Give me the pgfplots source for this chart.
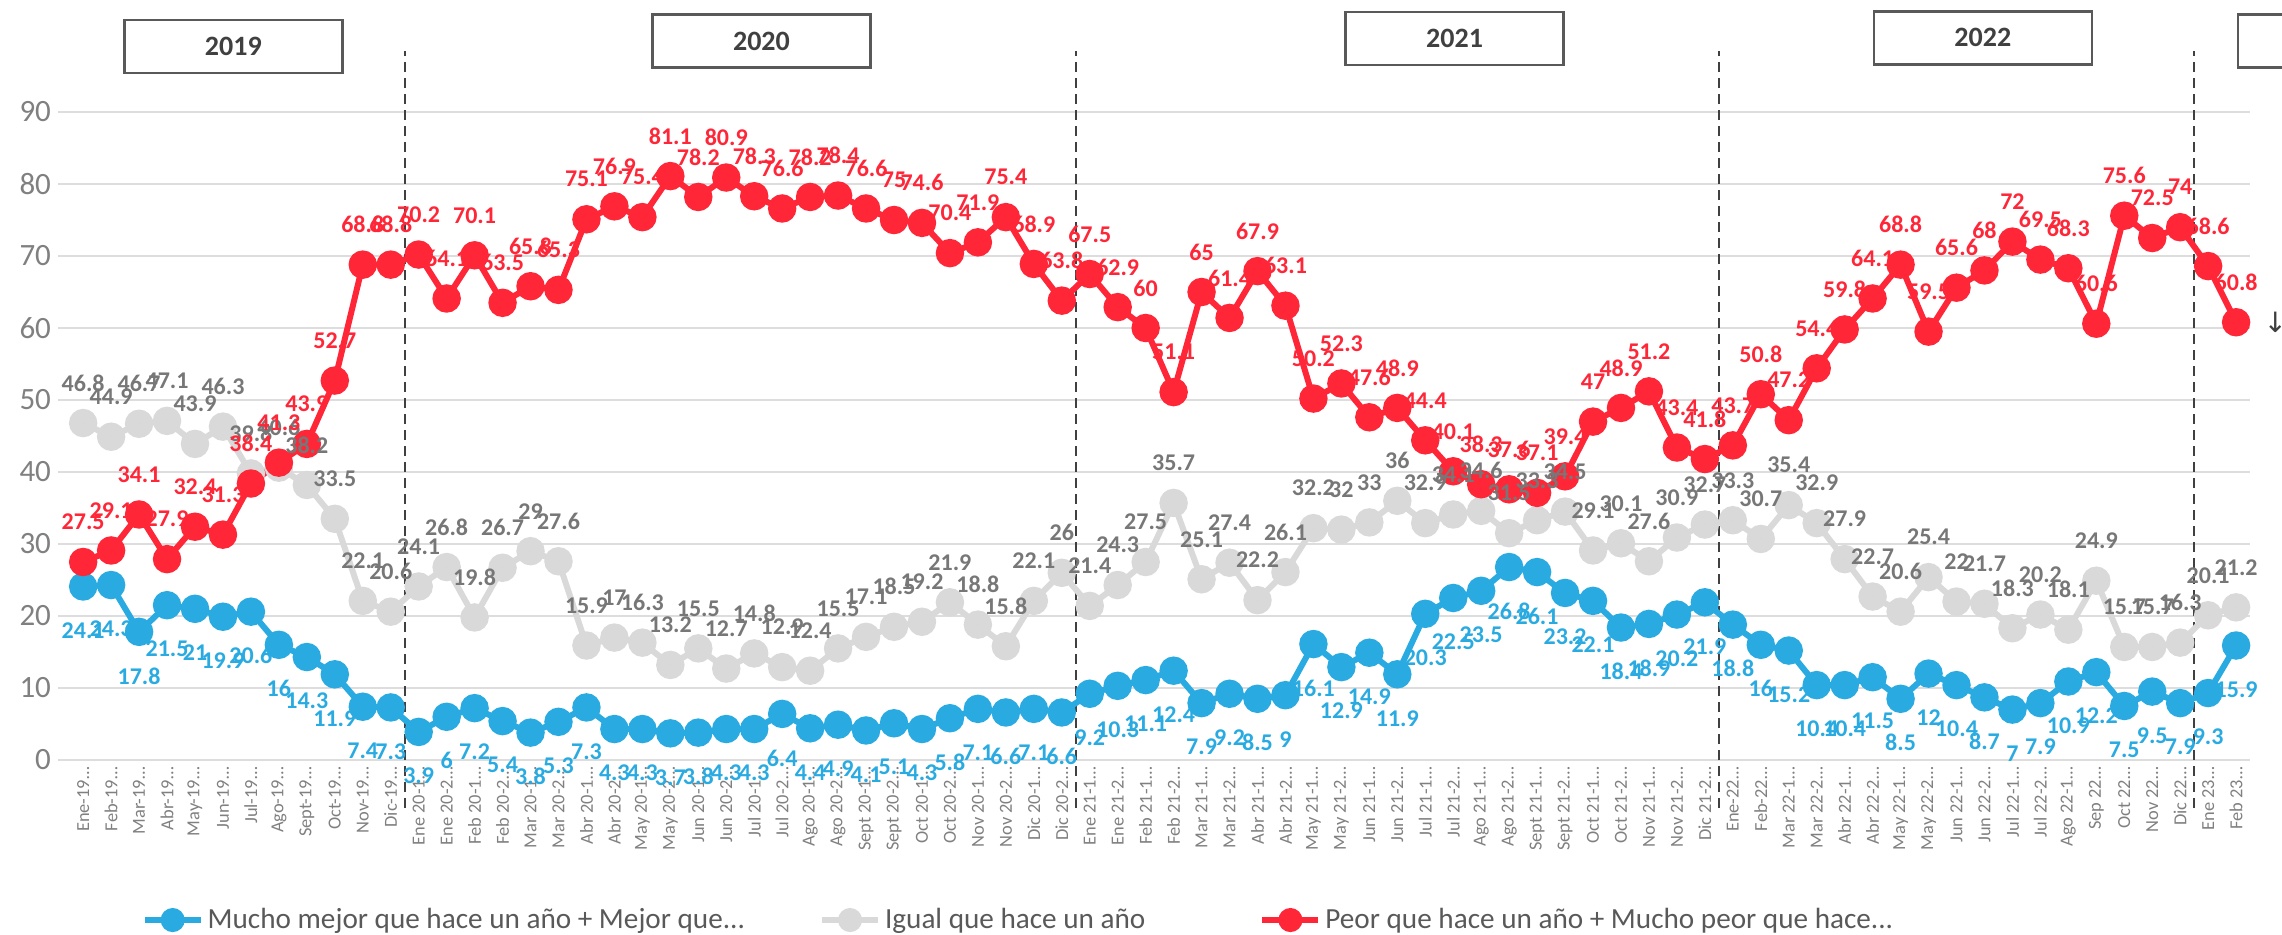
\documentclass[border=0pt]{standalone}
\usepackage{fontspec}
\setmainfont{Carlito}
\newfontfamily\dejavu{DejaVu Sans}
\usepackage{pgfplots}
\usepackage{pgfplotstable}
\pgfplotsset{compat=1.18}

\definecolor{cblue}{HTML}{29ABE2}
\definecolor{cred}{HTML}{FF2638}
\definecolor{cgray}{HTML}{D9D9D9}
\definecolor{lgray}{HTML}{777777}
\definecolor{gridc}{HTML}{DDDDDD}
\definecolor{boxc}{HTML}{595959}
\definecolor{txt}{HTML}{404040}

% x = period index, b = mucho mejor + mejor, g = igual, r = peor + mucho peor
\pgfplotstableread{
x b g r
0 24.1 46.8 27.5
1 24.3 44.9 29.1
2 17.8 46.7 34.1
3 21.5 47.1 27.9
4 21 43.9 32.4
5 19.9 46.3 31.3
6 20.6 39.8 38.4
7 16 40.6 41.3
8 14.3 38.2 43.9
9 11.9 33.5 52.7
10 7.4 22.1 68.8
11 7.3 20.6 68.8
12 3.9 24.1 70.2
13 6 26.8 64.1
14 7.2 19.8 70.1
15 5.4 26.7 63.5
16 3.8 29 65.8
17 5.3 27.6 65.3
18 7.3 15.9 75.1
19 4.3 17 76.9
20 4.3 16.3 75.4
21 3.7 13.2 81.1
22 3.8 15.5 78.2
23 4.3 12.7 80.9
24 4.3 14.8 78.3
25 6.4 12.9 76.6
26 4.4 12.4 78.2
27 4.9 15.5 78.4
28 4.1 17.1 76.6
29 5.1 18.5 75
30 4.3 19.2 74.6
31 5.8 21.9 70.4
32 7.1 18.8 71.9
33 6.6 15.8 75.4
34 7.1 22.1 68.9
35 6.6 26 63.8
36 9.2 21.4 67.5
37 10.3 24.3 62.9
38 11.1 27.5 60
39 12.4 35.7 51.1
40 7.9 25.1 65
41 9.2 27.4 61.4
42 8.5 22.2 67.9
43 9 26.1 63.1
44 16.1 32.2 50.2
45 12.9 32 52.3
46 14.9 33 47.6
47 11.9 36 48.9
48 20.3 32.9 44.4
49 22.5 34.1 40.1
50 23.5 34.6 38.3
51 26.8 31.5 37.6
52 26.1 33.3 37.1
53 23.2 34.5 39.4
54 22.1 29.1 47
55 18.4 30.1 48.9
56 18.9 27.6 51.2
57 20.2 30.9 43.4
58 21.9 32.7 41.8
59 18.8 33.3 43.7
60 16 30.7 50.8
61 15.2 35.4 47.2
62 10.4 32.9 54.4
63 10.4 27.9 59.8
64 11.5 22.7 64.1
65 8.5 20.6 68.8
66 12 25.4 59.5
67 10.4 22 65.6
68 8.7 21.7 68
69 7 18.3 72
70 7.9 20.2 69.5
71 10.9 18.1 68.3
72 12.2 24.9 60.6
73 7.5 15.7 75.6
74 9.5 15.7 72.5
75 7.9 16.3 74
76 9.3 20.1 68.6
77 15.9 21.2 60.8
}\data

\pgfplotsset{
  serie/.style={line width=3pt, mark=*, mark size=5.6pt},
  etiq/.style={forget plot, only marks, mark=*, mark size=0pt,
    mark options={draw=none, fill=none},
    nodes near coords={\pgfmathprintnumber[fixed, precision=1]{\pgfplotspointmeta}},
    every node near coord/.append style={anchor=center, text=#1,
      font=\bfseries\fontsize{12}{13}\selectfont, inner sep=0pt}},
}

\begin{document}
\begin{tikzpicture}
\useasboundingbox (0,0) rectangle (1141pt,467.5pt);
\begin{axis}[
  at={(29pt,87.5pt)}, anchor=south west,
  scale only axis, width=1096pt, height=324pt,
  xmin=-0.9, xmax=77.5, ymin=0, ymax=90,
  clip=false,
  axis line style={draw=none},
  tick style={draw=none},
  ymajorgrids, major grid style={gridc, line width=1.2pt},
  ytick={0,10,...,90},
  xtick={0,...,77},
  xticklabels={Ene-19…, Feb-19…, Mar-19…, Abr-19…, May-19…, Jun-19…, Jul-19…, Ago-19…, Sept-19…, Oct-19…, Nov-19…, Dic-19…,
    Ene 20-1…, Ene 20-2…, Feb 20-1…, Feb 20-2…, Mar 20-1…, Mar 20-2…, Abr 20-1…, Abr 20-2…, May 20-1…, May 20-2…, Jun 20-1…, Jun 20-2…, Jul 20-1…, Jul 20-2…, Ago 20-1…, Ago 20-2…, Sept 20-1…, Sept 20-2…, Oct 20-1…, Oct 20-2…, Nov 20-1…, Nov 20-2…, Dic 20-1…, Dic 20-2…,
    Ene 21-1…, Ene 21-2…, Feb 21-1…, Feb 21-2…, Mar 21-1…, Mar 21-2…, Abr 21-1…, Abr 21-2…, May 21-1…, May 21-2…, Jun 21-1…, Jun 21-2…, Jul 21-1…, Jul 21-2…, Ago 21-1…, Ago 21-2…, Sept 21-1…, Sept 21-2…, Oct 21-1…, Oct 21-2…, Nov 21-1…, Nov 21-2…, Dic 21-2…,
    Ene-22…, Feb-22…, Mar 22-1…, Mar 22-2…, Abr 22-1…, Abr 22-2…, May 22-1…, May 22-2…, Jun 22-1…, Jun 22-2…, Jul 22-1…, Jul 22-2…, Ago 22-1…, Sep 22…, Oct 22…, Nov 22…, Dic 22…,
    Ene 23…, Feb 23…},
  x tick label style={rotate=90, anchor=east, font=\fontsize{9.2}{10}\selectfont, text=gray},
  y tick label style={font=\fontsize{15.5}{17}\selectfont, text=gray},
  /pgf/number format/assume math mode=true,
  legend columns=3,
  legend style={at={(0.038,-0.247)}, anchor=west, draw=none, fill=none, inner sep=0pt,
    font=\fontsize{14.6}{17}\selectfont, text=boxc,
    /tikz/every even column/.append style={column sep=35pt}},
  legend image code/.code={\draw[#1, mark repeat=2, mark phase=2, mark size=4.5pt]
    plot coordinates {(0pt,0pt)(14pt,0pt)(28pt,0pt)};},
]

\draw[txt, line width=1pt, dash pattern=on 5pt off 3pt] (axis cs:11.5,-6.7) -- (axis cs:11.5,98.5);
\draw[txt, line width=1pt, dash pattern=on 5pt off 3pt] (axis cs:35.5,-6.7) -- (axis cs:35.5,98.5);
\draw[txt, line width=1pt, dash pattern=on 5pt off 3pt] (axis cs:58.5,-6.7) -- (axis cs:58.5,98.5);
\draw[txt, line width=1pt, dash pattern=on 5pt off 3pt] (axis cs:75.5,-6.7) -- (axis cs:75.5,98.5);

\addplot[cblue, serie] table[x=x, y=b] {\data};
\addlegendentry{Mucho mejor que hace un año + Mejor que...}
\addplot[cgray, serie] table[x=x, y=g] {\data};
\addlegendentry{Igual que hace un año\hspace{20pt}\mbox{}}
\addplot[cred, serie] table[x=x, y=r] {\data};
\addlegendentry{Peor que hace un año + Mucho peor que hace...}

\addplot[etiq=cblue, every node near coord/.append style={yshift=-22pt}] table[x=x, y=b] {\data};
\addplot[etiq=lgray, every node near coord/.append style={yshift=20pt}] table[x=x, y=g] {\data};
\addplot[etiq=cred, every node near coord/.append style={yshift=20pt}] table[x=x, y=r] {\data};

\tikzset{yearbox/.style={draw=boxc, line width=1.3pt, fill=white, minimum width=109pt,
  minimum height=26.5pt, font=\bfseries\fontsize{14}{15}\selectfont, text=txt}}
\node[yearbox] at (axis cs:5.37,99.1) {2019};
\node[yearbox] at (axis cs:24.26,99.86) {2020};
\node[yearbox] at (axis cs:49.05,100.2) {2021};
\node[yearbox] at (axis cs:67.94,100.3) {2022};
\node[yearbox] at (axis cs:80.96,99.9) {};
\node[text=txt, font=\dejavu\fontsize{14}{15}\selectfont] at (axis cs:78.4,60.8) {↓};
\end{axis}
\end{tikzpicture}
\end{document}
